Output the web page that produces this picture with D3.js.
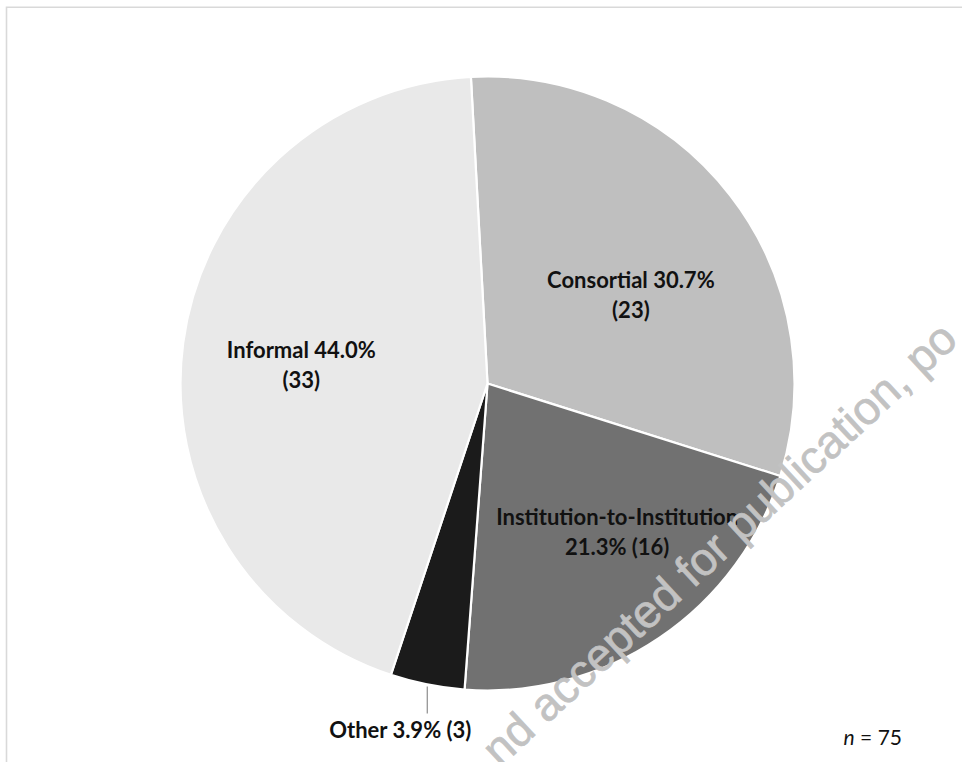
<!DOCTYPE html>
<html>
<head>
<meta charset="utf-8">
<script src="https://cdn.jsdelivr.net/npm/d3@7"></script>
<style>
  html, body { margin: 0; padding: 0; background: #fff; }
  svg { display: block; }
</style>
</head>
<body>
<svg id="chart" width="962" height="762"></svg>
<script>
// Partnership types (n = 75), in clockwise order from the top
const categories = ["Consortial", "Institution-to-Institution", "Other", "Informal"];
const percents   = [30.7, 21.3, 3.9, 44.0];
const counts     = [23, 16, 3, 33];
const sampleSize = 75;

const W = 962, H = 762;
const cx = 487.5, cy = 383.5, R = 307;
const startDeg = -3.1;

const fills = {
  "Consortial": "#bfbfbf",
  "Institution-to-Institution": "#717171",
  "Other": "#1b1b1b",
  "Informal": "#e9e9e9"
};

// label anchor in polar terms: [angle from 12 o'clock in degrees, distance from centre]
const labelPolar = {
  "Consortial": [58.6, 168],
  "Institution-to-Institution": [139.1, 198],
  "Informal": [275.4, 187]
};

const svg = d3.select("#chart");

// frame
svg.append("path")
  .attr("d", `M6.5,${H} L6.5,7.3 L${W},7.3`)
  .attr("fill", "none")
  .attr("stroke", "#d9d9d9")
  .attr("stroke-width", 1.6);

const data = categories.map((c, i) => ({ cat: c, pct: percents[i], n: counts[i] }));

const toRad = d => d * Math.PI / 180;
const pie = d3.pie()
  .sort(null)
  .value(d => d.pct)
  .startAngle(toRad(startDeg))
  .endAngle(toRad(startDeg) + 2 * Math.PI);

const arc = d3.arc().innerRadius(0).outerRadius(R);
const arcs = pie(data);

const g = svg.append("g").attr("transform", `translate(${cx},${cy})`);

g.selectAll("path.slice")
  .data(arcs)
  .join("path")
  .attr("class", "slice")
  .attr("d", arc)
  .attr("fill", d => fills[d.data.cat])
  .attr("stroke", "#ffffff")
  .attr("stroke-width", 2.2)
  .attr("stroke-linejoin", "round");

// watermark
svg.append("text")
  .attr("transform", "translate(500,768) rotate(-42.8)")
  .attr("font-family", "'Liberation Sans', Arial, sans-serif")
  .attr("font-size", 46)
  .attr("fill", "#c2c2c2")
  .attr("stroke", "#c2c2c2")
  .attr("stroke-width", 0.7)
  .text("nd accepted for publication, po");

const fmt = d3.format(".1f");
const labelFont = "Lato, 'Open Sans', sans-serif";
const lineGap = 30;

function polar(angleDeg, r) {
  const a = toRad(angleDeg);
  return [r * Math.sin(a), -r * Math.cos(a)];
}

// two-line labels inside the slices
const inside = [
  { cat: "Consortial", lines: d => [`${d.cat} ${fmt(d.pct)}%`, `(${d.n})`] },
  { cat: "Institution-to-Institution", lines: d => [d.cat, `${fmt(d.pct)}% (${d.n})`] },
  { cat: "Informal", lines: d => [`${d.cat} ${fmt(d.pct)}%`, `(${d.n})`] }
];

inside.forEach(spec => {
  const d = data.find(e => e.cat === spec.cat);
  const [ang, r] = labelPolar[spec.cat];
  const [x, y] = polar(ang, r);
  const t = g.append("text")
    .attr("text-anchor", "middle")
    .attr("font-family", labelFont)
    .attr("font-weight", 700)
    .attr("font-size", 22)
    .attr("fill", "#111");
  spec.lines(d).forEach((line, i) => {
    t.append("tspan")
      .attr("x", x)
      .attr("y", y + (i === 0 ? -lineGap / 2 : lineGap / 2) + 7)
      .text(line);
  });
});

// "Other" label outside with a leader line
const other = arcs.find(a => a.data.cat === "Other");
const mid = (other.startAngle + other.endAngle) / 2;
const ex = R * Math.sin(mid), ey = -R * Math.cos(mid);
g.append("line")
  .attr("x1", ex).attr("y1", ey + 2)
  .attr("x2", ex).attr("y2", ey + 29)
  .attr("stroke", "#8c8c8c")
  .attr("stroke-width", 1.2);
g.append("text")
  .attr("x", ex - 27)
  .attr("y", ey + 53)
  .attr("text-anchor", "middle")
  .attr("font-family", labelFont)
  .attr("font-weight", 700)
  .attr("font-size", 22)
  .attr("fill", "#111")
  .text(`${other.data.cat} ${fmt(other.data.pct)}% (${other.data.n})`);

// sample size note
const note = svg.append("text")
  .attr("x", 902)
  .attr("y", 745)
  .attr("text-anchor", "end")
  .attr("font-family", labelFont)
  .attr("font-size", 21)
  .attr("fill", "#111");
note.append("tspan").attr("font-style", "italic").text("n");
note.append("tspan").text(` = ${sampleSize}`);
</script>
</body>
</html>
